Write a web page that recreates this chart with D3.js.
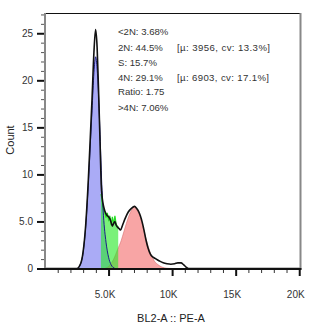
<!DOCTYPE html>
<html><head><meta charset="utf-8">
<script src="https://cdn.jsdelivr.net/npm/d3@7"></script>
<style>
html,body{margin:0;padding:0;background:#fff;}
svg{display:block;font-family:"Liberation Sans",Arial,sans-serif;}
</style></head>
<body><svg id="c" width="324" height="330"></svg>
<script>
// ---- data (x in channel units, y = count) ----
const histX = [0,2500,2800,3000,3200,3400,3550,3700,3850,3980,4100,4200,4320,4420,4500,4630,4800,5000,5100,5200,5300,5400,5500,5600,5700,5850,5950,6100,6300,6550,6800,7050,7200,7350,7500,7650,7800,7950,8100,8300,8500,8750,9000,9300,9600,9900,10200,10450,10700,10900,11100,11300,20100];
const histY = [0,0,0.5,1.8,4.6,9.2,13.5,18,23,25.4,23.5,19.5,14,9,7.5,6.5,5.8,5.5,5.3,4.9,4.5,4.8,5.0,4.6,4.4,4.2,4.1,4.6,5.3,6.0,6.4,6.6,6.4,6.1,5.6,4.9,4.0,3.0,2.2,1.5,1.2,1.0,0.8,0.6,0.5,0.45,0.5,0.6,0.6,0.4,0.15,0,0];

const g1X = [2550,2800,3000,3200,3400,3550,3700,3850,3980,4100,4200,4350,4450,4600,4800,5000,5200,5500];
const g1Y = [0,0.5,1.7,4.4,8.8,12.8,16.8,20.8,22.5,21.2,18.8,13.5,9.5,5.6,2.8,1.2,0.4,0];

const g2X = [4700,5100,5400,5700,6000,6200,6400,6600,6800,7050,7200,7400,7600,7800,8000,8200,8400,8600,8900,9200,9600,10000];
const g2Y = [0,0.35,1.0,2.0,3.0,3.9,4.8,5.6,6.2,6.6,6.3,5.8,5.0,3.9,2.9,2.0,1.3,0.8,0.4,0.15,0.03,0];

const sX = [4400,4400,4450,4500,4600,4700,4800,4900,5000,5100,5200,5300,5400,5500,5600,5700,5760,5760];
const sY = [0,7.9,7.6,7.2,6.3,6.0,5.4,5.9,5.2,5.6,4.6,5.5,4.7,5.6,4.7,4.5,4.4,0];

const xMajorTicks = [5000,10000,15000,20000];
const xTickLabels = ["5.0K","10K","15K","20K"];
const yMajorTicks = [0,5,10,15,20,25];
const yTickLabels = ["0","5.0","10","15","20","25"];

const statLines = [
  "<2N: 3.68%",
  "2N: 44.5%",
  "S: 15.7%",
  "4N: 29.1%",
  "Ratio: 1.75",
  ">4N: 7.06%"
];
const statExtra = ["", "[µ: 3956, cv: 13.3%]", "", "[µ: 6903, cv: 17.1%]", "", ""];

// ---- drawing ----
const svg = d3.select("#c");
const x = d3.scaleLinear().domain([0, 20100]).range([45, 300.5]);
const y = d3.scaleLinear().domain([0, 27.1]).range([268.5, 13.5]);

const pts = (xs, ys) => xs.map((v, i) => [v, ys[i]]);

const area = d3.area().x(d => x(d[0])).y0(y(0)).y1(d => y(d[1]));
const line = d3.line().x(d => x(d[0])).y(d => y(d[1]));

// G1 (blue)
svg.append("path").datum(pts(g1X, g1Y))
  .attr("d", area.curve(d3.curveMonotoneX))
  .attr("fill", "#aaabf6");
// G2 (red)
svg.append("path").datum(pts(g2X, g2Y))
  .attr("d", area.curve(d3.curveMonotoneX))
  .attr("fill", "rgba(244,110,110,0.62)");
svg.append("path").datum(pts(g2X, g2Y))
  .attr("d", line.curve(d3.curveMonotoneX))
  .attr("fill", "none").attr("stroke", "rgba(200,80,80,0.55)").attr("stroke-width", 0.8);
// S (green)
svg.append("path").datum(pts(sX, sY))
  .attr("d", d3.area().x(d => x(d[0])).y0(y(0)).y1(d => y(d[1])).curve(d3.curveLinear))
  .attr("fill", "rgba(40,232,40,0.62)");
svg.append("path").datum(pts(sX, sY).slice(1, -1))
  .attr("d", line.curve(d3.curveLinear))
  .attr("fill", "none").attr("stroke", "#22dd22").attr("stroke-width", 1.2);
// G1 outline (navy)
svg.append("path").datum(pts(g1X, g1Y))
  .attr("d", line.curve(d3.curveMonotoneX))
  .attr("fill", "none").attr("stroke", "#1c1c8a").attr("stroke-width", 1);

// raw histogram (black)
svg.append("path").datum(pts(histX, histY))
  .attr("d", line.curve(d3.curveMonotoneX))
  .attr("fill", "none").attr("stroke", "#111").attr("stroke-width", 1.6)
  .attr("stroke-linejoin", "round");

// frame: top (black), right (gray)
svg.append("line").attr("x1", 45).attr("x2", 300.5).attr("y1", 13.5).attr("y2", 13.5)
  .attr("stroke", "#111").attr("stroke-width", 1);
svg.append("line").attr("x1", 300.5).attr("x2", 300.5).attr("y1", 13).attr("y2", 269.5)
  .attr("stroke", "#888").attr("stroke-width", 2);

// y axis
const yMinor = d3.range(0, 28, 1).filter(v => v % 5 !== 0);
const yMinorAx = svg.append("g").attr("transform", "translate(45,0)")
  .call(d3.axisLeft(y).tickValues(yMinor).tickSize(4).tickFormat(""));
yMinorAx.select(".domain").remove();
yMinorAx.selectAll("line").attr("stroke", "#555").attr("stroke-width", 1);
const yAx = svg.append("g").attr("transform", "translate(45,0)")
  .call(d3.axisLeft(y).tickValues(yMajorTicks).tickSize(8).tickPadding(4)
    .tickFormat((d, i) => yTickLabels[i]));
yAx.select(".domain").remove();
yAx.selectAll("line").attr("stroke", "#111").attr("stroke-width", 2);
yAx.selectAll("text").attr("font-size", 10).attr("fill", "#333")
  .attr("font-family", "'Liberation Sans',Arial,sans-serif");
svg.append("line").attr("x1", 45).attr("x2", 45).attr("y1", 13).attr("y2", 269.5)
  .attr("stroke", "#888").attr("stroke-width", 2);

// x axis
const xMinor = d3.range(1000, 20001, 1000).filter(v => v % 5000 !== 0);
const xMinorAx = svg.append("g").attr("transform", "translate(0,269)")
  .call(d3.axisBottom(x).tickValues(xMinor).tickSize(4).tickFormat(""));
xMinorAx.select(".domain").remove();
xMinorAx.selectAll("line").attr("stroke", "#333").attr("stroke-width", 1);
const xAx = svg.append("g").attr("transform", "translate(0,269)")
  .call(d3.axisBottom(x).tickValues(xMajorTicks).tickSize(7).tickPadding(15)
    .tickFormat((d, i) => xTickLabels[i]));
xAx.select(".domain").remove();
xAx.selectAll("line").attr("stroke", "#111").attr("stroke-width", 2);
xAx.selectAll("text").attr("font-size", 10).attr("fill", "#333").attr("dx", "-4")
  .attr("font-family", "'Liberation Sans',Arial,sans-serif");
svg.append("line").attr("x1", 44).attr("x2", 301.5).attr("y1", 269).attr("y2", 269)
  .attr("stroke", "#111").attr("stroke-width", 2);

// axis titles
svg.append("text").attr("x", 171).attr("y", 322).attr("text-anchor", "middle")
  .attr("font-size", 11).attr("fill", "#222").text("BL2-A :: PE-A");
svg.append("text").attr("transform", "translate(14,140) rotate(-90)")
  .attr("text-anchor", "middle").attr("font-size", 11).attr("fill", "#222").text("Count");

// stats
const st = svg.append("g").attr("font-size", 9.6).attr("fill", "#333");
const lineYs = [35, 50.5, 65.5, 80.5, 95, 111];
statLines.forEach((t, i) => {
  st.append("text").attr("x", 118).attr("y", lineYs[i]).text(t);
  if (statExtra[i]) st.append("text").attr("x", 177).attr("y", lineYs[i])
    .attr("textLength", i === 1 ? 93 : 92).attr("lengthAdjust", "spacing").text(statExtra[i]);
});
</script></body></html>
